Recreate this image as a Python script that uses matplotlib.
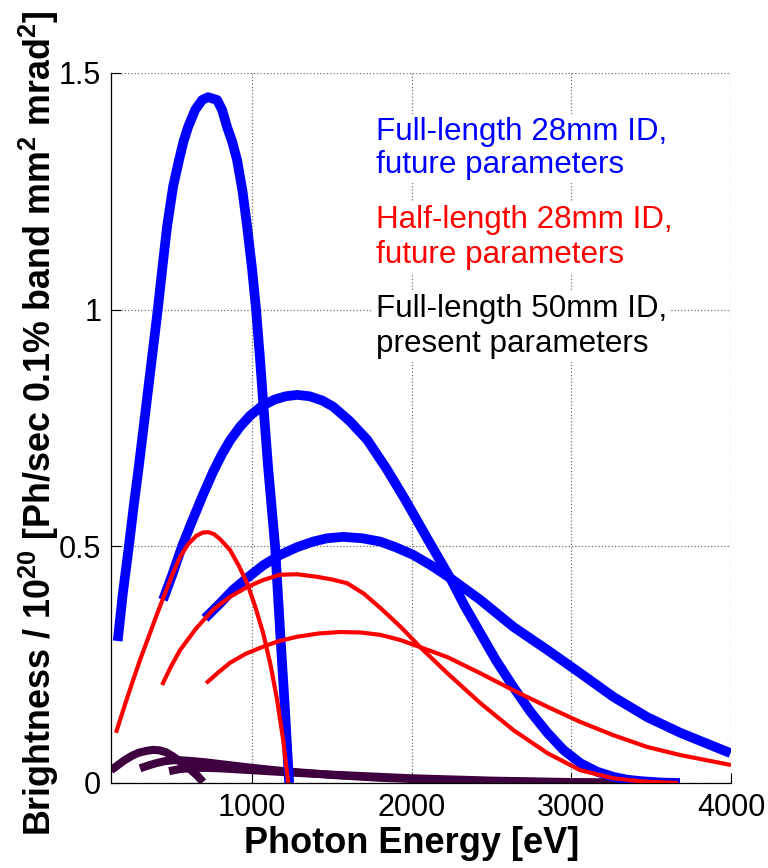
import matplotlib
matplotlib.use("Agg")
import matplotlib.pyplot as plt
from matplotlib import font_manager

plt.rcParams['font.family'] = ['Liberation Sans', 'DejaVu Sans']
plt.rcParams['mathtext.fontset'] = 'custom'
plt.rcParams['mathtext.rm'] = 'Liberation Sans:bold'
plt.rcParams['mathtext.bf'] = 'Liberation Sans:bold'

# ---------------- data (photon energy [eV], brightness / 1e20) ----------------
# Full-length 28mm ID, future parameters (harmonics 1, 3, 5)
E_blue1 = [158, 190, 228, 260, 290, 341, 375, 409, 440, 467, 505, 542, 570, 599, 643, 687, 724,
           781, 812, 843, 875, 906, 940, 969, 1000, 1025, 1050, 1068, 1100, 1144, 1176, 1205, 1232]
B_blue1 = [0.30, 0.40, 0.50, 0.59, 0.668, 0.81, 0.905, 1.0, 1.095, 1.175, 1.26, 1.316, 1.355, 1.386, 1.422, 1.443, 1.449,
           1.443, 1.422, 1.386, 1.355, 1.316, 1.25, 1.175, 1.085, 1.0, 0.894, 0.81, 0.668, 0.50, 0.317, 0.16, 0.0]
E_blue3 = [442, 500, 561, 620, 690, 755, 810, 862, 925, 987, 1060, 1140, 1210, 1282, 1360, 1440, 1508, 1610,
           1721, 1840, 1960, 2100, 2241, 2330, 2429, 2530, 2636, 2740, 2850, 2950, 3056, 3160, 3263, 3350, 3433, 3560, 3680]
B_blue3 = [0.387, 0.44, 0.50, 0.55, 0.607, 0.657, 0.694, 0.724, 0.753, 0.776, 0.796, 0.81, 0.817, 0.82, 0.817, 0.808, 0.795, 0.765,
           0.725, 0.665, 0.598, 0.515, 0.433, 0.375, 0.317, 0.258, 0.203, 0.152, 0.106, 0.07, 0.042, 0.024, 0.013, 0.007, 0.004, 0.001, 0.0]
E_blue5 = [705, 800, 880, 968, 1070, 1176, 1280, 1382, 1470, 1571, 1690, 1803, 1900, 2009, 2120, 2241,
           2429, 2636, 2850, 3056, 3263, 3476, 3683, 3997]
B_blue5 = [0.348, 0.38, 0.408, 0.433, 0.46, 0.482, 0.498, 0.51, 0.517, 0.52, 0.517, 0.51, 0.498, 0.482, 0.46, 0.433,
           0.387, 0.33, 0.281, 0.232, 0.182, 0.139, 0.106, 0.063]

# Half-length 28mm ID, future parameters
E_red1 = [147, 200, 250, 300, 342, 400, 442, 500, 549, 600, 650, 690, 724, 760, 800, 862, 915, 969,
          1020, 1069, 1115, 1157, 1195, 1226]
B_red1 = [0.106, 0.162, 0.213, 0.262, 0.30, 0.353, 0.39, 0.44, 0.478, 0.505, 0.522, 0.529, 0.53, 0.526, 0.515, 0.492, 0.46, 0.422,
          0.372, 0.317, 0.25, 0.175, 0.09, 0.0]
E_red3 = [436, 490, 549, 650, 755, 860, 969, 1070, 1176, 1282, 1400, 1500, 1596, 1700, 1803, 1930,
          2053, 2223, 2429, 2636, 2850, 3056, 3263, 3450, 3670]
B_red3 = [0.207, 0.245, 0.281, 0.327, 0.366, 0.393, 0.414, 0.429, 0.44, 0.441, 0.436, 0.43, 0.422, 0.40, 0.37, 0.33,
          0.287, 0.232, 0.169, 0.112, 0.063, 0.027, 0.01, 0.003, 0.0]
E_red5 = [712, 790, 862, 960, 1069, 1170, 1282, 1420, 1552, 1680, 1803, 1930, 2053, 2223, 2429, 2636,
          2850, 3056, 3263, 3476, 3683, 4000]
B_red5 = [0.211, 0.234, 0.254, 0.273, 0.288, 0.30, 0.309, 0.316, 0.319, 0.318, 0.313, 0.302, 0.287, 0.266, 0.232, 0.196,
          0.161, 0.129, 0.101, 0.076, 0.059, 0.038]

# Full-length 50mm ID, present parameters
E_dark1 = [116, 160, 200, 250, 290, 340, 380, 420, 460, 505, 550, 592, 625, 655, 693]
B_dark1 = [0.027, 0.038, 0.048, 0.058, 0.064, 0.068, 0.07, 0.069, 0.065, 0.056, 0.045, 0.034, 0.025, 0.016, 0.002]
E_dark2 = [298, 350, 400, 450, 505, 550, 600, 700, 850, 1000, 1200, 1500, 1800, 2200, 2600, 3000, 3300]
B_dark2 = [0.031, 0.037, 0.042, 0.046, 0.048, 0.048, 0.047, 0.044, 0.038, 0.032, 0.025, 0.017, 0.011, 0.006, 0.003, 0.001, 0.0]
E_dark3 = [480, 540, 600, 700, 800, 1000, 1300, 1600, 2000, 2500, 3000, 3500, 3680]
B_dark3 = [0.025, 0.029, 0.031, 0.032, 0.031, 0.027, 0.021, 0.016, 0.01, 0.005, 0.002, 0.0005, 0.0]

x_ticks = [1000, 2000, 3000, 4000]
y_ticks = [0, 0.5, 1, 1.5]
y_ticklabels = ["0", "0.5", "1", "1.5"]

legend_lines = [
    ("Full-length 28mm ID,", "#0000ff"),
    ("future parameters", "#0000ff"),
    ("Half-length 28mm ID,", "#ff0000"),
    ("future parameters", "#ff0000"),
    ("Full-length 50mm ID,", "#000000"),
    ("present parameters", "#000000"),
]

# ---------------- figure ----------------
fig = plt.figure(figsize=(7.68, 8.68), dpi=100)
ax = fig.add_axes([111/768, 85/868, 620/768, 710/868])

dark = "#3f003f"
for E, B in [(E_dark1, B_dark1), (E_dark2, B_dark2), (E_dark3, B_dark3)]:
    ax.plot(E, B, color=dark, lw=5.8, solid_capstyle='butt', solid_joinstyle='round', zorder=2)
for E, B in [(E_blue1, B_blue1), (E_blue3, B_blue3), (E_blue5, B_blue5)]:
    ax.plot(E, B, color="#0000ff", lw=7, solid_capstyle='butt', solid_joinstyle='round', zorder=3)
for E, B in [(E_red1, B_red1), (E_red3, B_red3), (E_red5, B_red5)]:
    ax.plot(E, B, color="#ff0000", lw=3, solid_capstyle='butt', solid_joinstyle='round', zorder=4)

ax.set_xlim(116, 4000)
ax.set_ylim(0, 1.5)
ax.set_xticks(x_ticks)
ax.set_xticklabels([str(t) for t in x_ticks])
ax.set_yticks(y_ticks)
ax.set_yticklabels(y_ticklabels)

names = {f.name for f in font_manager.fontManager.ttflist}
if 'Liberation Sans Narrow' in names:
    tick_family, tick_size = 'Liberation Sans Narrow', 25
else:
    tick_family, tick_size = 'Liberation Sans', 22
ax.tick_params(direction='in', length=7, width=0.8, pad=7)
for lab in ax.get_xticklabels() + ax.get_yticklabels():
    lab.set_family(tick_family)
    lab.set_fontsize(tick_size)

ax.grid(True, linestyle=':', color='#707070', linewidth=0.9)
ax.set_axisbelow(True)
for s in ['top', 'right']:
    ax.spines[s].set_visible(False)
for s in ['left', 'bottom']:
    ax.spines[s].set_linewidth(0.9)

fig.text(412/768, (868-853)/868, "Photon Energy [eV]", ha='center', va='baseline',
         fontsize=26, fontweight='bold')
fig.text(39/768, 1-423/868,
         r"Brightness / 10$^{20}$ [Ph/sec 0.1% band mm$^{2}$ mrad$^{2}$]",
         rotation=90, ha='center', va='center', fontsize=25.8, fontweight='bold')

baselines = [140, 173, 228, 263, 317, 352]
for (txt, col), yb in zip(legend_lines, baselines):
    fig.text(376/768, 1-yb/868, txt, color=col, fontsize=22.6, ha='left', va='baseline',
             bbox=dict(facecolor='white', edgecolor='none', pad=2))

fig.savefig("out.png", dpi=100)
